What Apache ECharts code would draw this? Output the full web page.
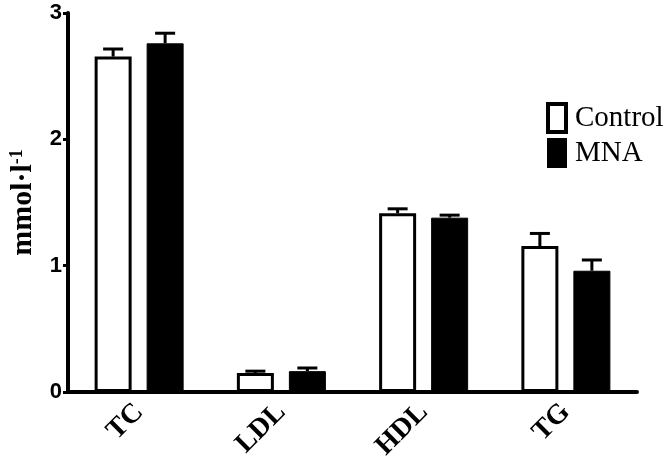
<!DOCTYPE html>
<html>
<head>
<meta charset="utf-8">
<script src="https://cdn.jsdelivr.net/npm/echarts@6/dist/echarts.min.js"></script>
<style>
  html, body { margin: 0; padding: 0; background: #fff; }
  #chart { width: 666px; height: 474px; }
</style>
</head>
<body>
<div id="chart"></div>
<script>
// values (mmol/l)
const categories = ["TC", "LDL", "HDL", "TG"];
const controlMean = [2.655, 0.15, 1.415, 1.155];
const controlErr = [0.06, 0.015, 0.035, 0.1];
const mnaMean = [2.76, 0.165, 1.38, 0.96];
const mnaErr = [0.08, 0.025, 0.02, 0.085];
const yTicks = [0, 1, 2, 3];

const serif = "'Liberation Serif', 'Times New Roman', serif";
const sans = "'Liberation Sans', Arial, sans-serif";

const BAR_W = 37;
const BAR_GAP = 15;
const OFFSET = (BAR_W + BAR_GAP) / 2;

function errorSeries(name, means, errs, dir) {
  return {
    name: name + " err",
    type: "custom",
    z: 1,
    data: means.map((m, i) => [i, m, errs[i]]),
    encode: { x: 0, y: 1 },
    renderItem: (params, api) => {
      const i = api.value(0);
      const m = api.value(1);
      const e = api.value(2);
      const base = api.coord([i, m]);
      const top = api.coord([i, m + e]);
      const x = base[0] + dir * OFFSET;
      const style = { stroke: "#000", lineWidth: 3, fill: null };
      return {
        type: "group",
        children: [
          { type: "line", shape: { x1: x, y1: base[1], x2: x, y2: top[1] }, style },
          { type: "line", shape: { x1: x - 10, y1: top[1], x2: x + 10, y2: top[1] }, style },
        ],
      };
    },
  };
}

const chart = echarts.init(document.getElementById("chart"));

const option = {
  animation: false,
  backgroundColor: "#fff",
  grid: { left: 67, right: 29, top: 13, bottom: 82 },
  legend: {
    orient: "vertical",
    left: 541,
    top: 97,
    itemWidth: 18,
    itemHeight: 28,
    itemGap: 4,
    icon: "rect",
    textStyle: { fontFamily: serif, fontSize: 29, color: "#000", padding: [0, 0, 0, 4] },
    data: [
      { name: "Control", itemStyle: { color: "#fff", borderColor: "#000", borderWidth: 4 } },
      { name: "MNA", itemStyle: { color: "#000", borderColor: "#000", borderWidth: 2 } },
    ],
  },
  xAxis: {
    type: "category",
    data: categories,
    axisLine: { lineStyle: { color: "#000", width: 4 } },
    axisTick: { alignWithLabel: true, length: 5, lineStyle: { color: "#000", width: 3 } },
    axisLabel: {
      rotate: 45,
      margin: 16,
      color: "#000",
      fontFamily: serif,
      fontWeight: "bold",
      fontSize: 28,
    },
  },
  yAxis: {
    type: "value",
    min: 0,
    max: 3,
    interval: 1,
    name: "mmol·l{sup|-1}",
    nameLocation: "middle",
    nameRotate: 90,
    nameGap: 30,
    nameTextStyle: {
      color: "#000",
      fontFamily: serif,
      fontWeight: "bold",
      fontSize: 30,
      rich: {
        sup: {
          fontFamily: serif,
          fontWeight: "bold",
          fontSize: 18,
          color: "#000",
          verticalAlign: "top",
          padding: [0, 0, 12, 0],
        },
      },
    },
    axisLine: { show: true, lineStyle: { color: "#000", width: 4 } },
    axisTick: { show: true, length: 5, lineStyle: { color: "#000", width: 3 } },
    splitLine: { show: false },
    axisLabel: {
      margin: 6,
      color: "#000",
      fontFamily: sans,
      fontWeight: "bold",
      fontSize: 22,
      formatter: (v) => (yTicks.includes(v) ? String(v) : ""),
    },
  },
  series: [
    {
      name: "Control",
      type: "bar",
      barWidth: BAR_W,
      barGap: (BAR_GAP / BAR_W) * 100 + "%",
      z: 2,
      itemStyle: { color: "#fff", borderColor: "#000", borderWidth: 3 },
      data: controlMean,
    },
    {
      name: "MNA",
      type: "bar",
      barWidth: BAR_W,
      z: 2,
      itemStyle: { color: "#000", borderColor: "#000", borderWidth: 1 },
      data: mnaMean,
    },
    errorSeries("Control", controlMean, controlErr, -1),
    errorSeries("MNA", mnaMean, mnaErr, 1),
  ],
};

chart.setOption(option);
</script>
</body>
</html>
